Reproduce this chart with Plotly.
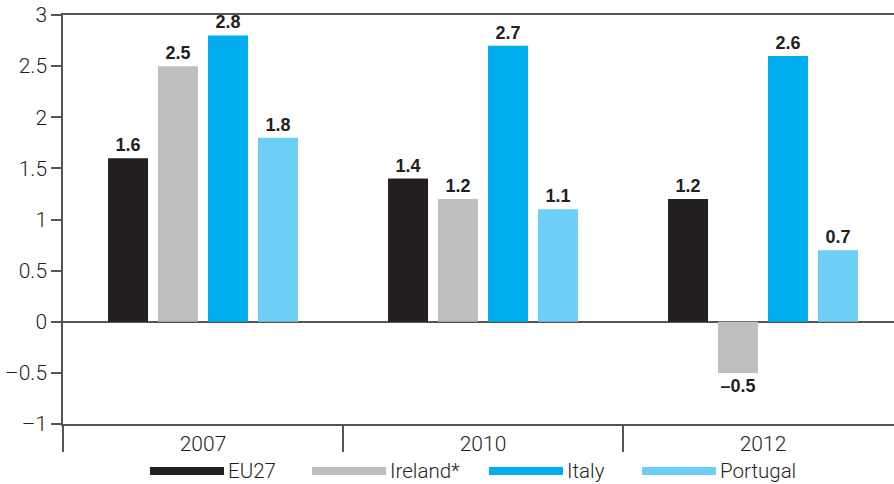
import plotly.graph_objects as go

categories = ["2007", "2010", "2012"]
series_names = ["EU27", "Ireland*", "Italy", "Portugal"]
eu27 = [1.6, 1.4, 1.2]
ireland = [2.5, 1.2, -0.5]
italy = [2.8, 2.7, 2.6]
portugal = [1.8, 1.1, 0.7]
y_ticks = [-1, -0.5, 0, 0.5, 1, 1.5, 2, 2.5, 3]
y_tick_labels = ["–1", "–0.5", "0", "0.5", "1", "1.5", "2", "2.5", "3"]

colors = ["#231f20", "#bcbec0", "#00aeef", "#6dcff6"]
series_values = [eu27, ireland, italy, portugal]

W, H = 894, 484
ml, mr, mt, mb = 63, 0, 15, 60
pw, ph = W - ml - mr, H - mt - mb

label_font = dict(family="Liberation Sans, Arial, sans-serif",
                  size=18, color="#231f20", weight="bold")
axis_font = dict(family="Roboto, Liberation Sans, Arial, sans-serif", size=21,
                 color="#231f20", weight=300)

fig = go.Figure()
for name, vals, col in zip(series_names, series_values, colors):
    fig.add_trace(go.Bar(
        x=categories, y=vals, name=name, marker=dict(color=col, line=dict(width=0)),
        text=[f"{v:.1f}".replace("-", "–") for v in vals],
        textposition="outside", cliponaxis=False,
        textfont=label_font, showlegend=False,
    ))

unit_px = 280.0
x_range_units = pw / unit_px

fig.update_layout(
    width=W, height=H,
    margin=dict(l=ml, r=mr, t=mt, b=mb, autoexpand=False),
    paper_bgcolor="white", plot_bgcolor="white",
    barmode="group", bargap=0.286, bargroupgap=0.2,
    xaxis=dict(type="category", range=[-0.5, -0.5 + x_range_units],
               tickson="boundaries", ticks="outside", ticklen=26, tickwidth=1.5,
               tickcolor="#555", showline=True, linecolor="#555", linewidth=1.5,
               mirror=True, showgrid=False, tickfont=axis_font),
    yaxis=dict(range=[-1, 3], tickvals=y_ticks, ticktext=y_tick_labels,
               ticks="outside", ticklen=10, tickwidth=1.5, tickcolor="#555",
               showline=True, linecolor="#555", linewidth=1.5, showgrid=False,
               zeroline=True, zerolinecolor="#555", zerolinewidth=1.5,
               tickfont=axis_font),
    showlegend=False,
)

fig.add_shape(type="line", xref="paper", yref="paper", x0=0, x1=0,
              y0=0, y1=-26 / ph, line=dict(color="#555", width=1.5))

legend_px = [150, 312, 489, 642]
sw_len = 74
leg_y = 471
for name, col, lx in zip(series_names, colors, legend_px):
    x0 = (lx - ml) / pw
    x1 = (lx + sw_len - ml) / pw
    yc = (H - mb - leg_y) / ph
    fig.add_shape(type="rect", xref="paper", yref="paper", x0=x0, x1=x1,
                  y0=yc - 4 / ph, y1=yc + 4 / ph, fillcolor=col, line=dict(width=0))
    fig.add_annotation(xref="paper", yref="paper", x=(lx + sw_len + 2 - ml) / pw, y=yc,
                       text=name, showarrow=False, xanchor="left", yanchor="middle",
                       font=dict(family="Roboto, Liberation Sans, Arial, sans-serif",
                                 size=20.5, color="#231f20", weight=300))

fig.write_html("out.html")
